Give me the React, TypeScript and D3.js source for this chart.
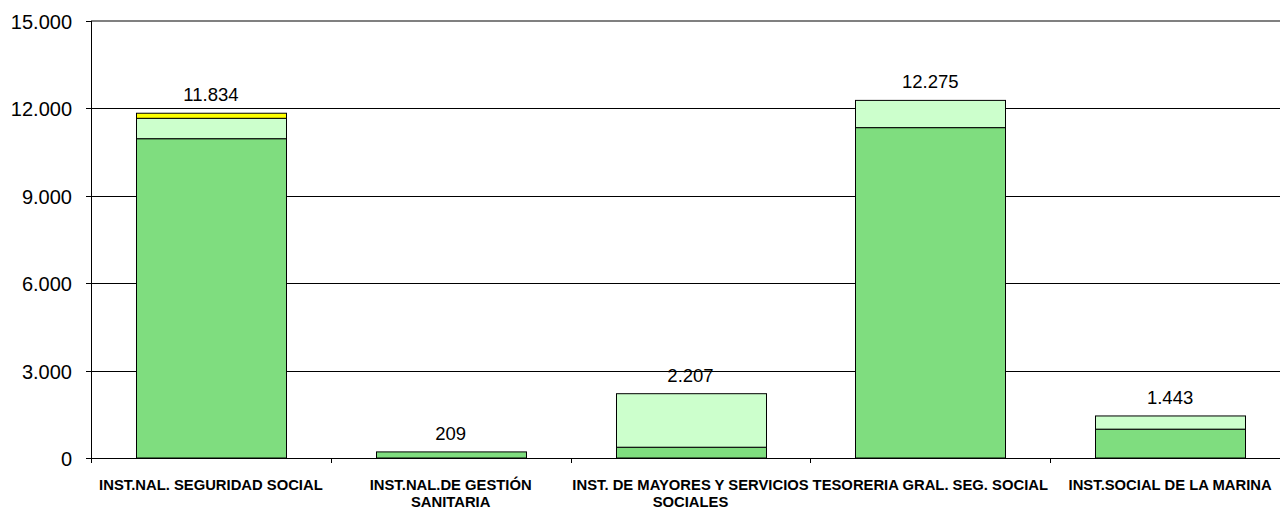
import React, { useEffect, useRef } from "react";
import * as d3 from "d3";

const categories = [
  "INST.NAL. SEGURIDAD SOCIAL",
  "INST.NAL.DE GESTIÓN SANITARIA",
  "INST. DE MAYORES Y SERVICIOS SOCIALES",
  "TESORERIA GRAL. SEG. SOCIAL",
  "INST.SOCIAL DE LA MARINA",
];
const serieBase = [10960, 209, 370, 11340, 990];
const serieMedia = [700, 0, 1837, 935, 453];
const serieAlta = [174, 0, 0, 0, 0];
const yTicks = [0, 3000, 6000, 9000, 12000, 15000];

const COLORS = ["#7FDD7F", "#CCFFCC", "#FFFF00"];
const W = 1280;
const H = 509;
const FONT = "Arial, 'Liberation Sans', sans-serif";

export default function App() {
  const ref = useRef<SVGSVGElement>(null);

  useEffect(() => {
    const svg = d3.select(ref.current);
    svg.selectAll("*").remove();

    const left = 91;
    const right = 1290;
    const top = 21;
    const bottom = 458;

    const x = d3
      .scaleBand<string>()
      .domain(categories)
      .range([left, right])
      .paddingInner(0.375)
      .paddingOuter(0.1875);
    const y = d3.scaleLinear().domain([0, 15000]).range([bottom, top]);

    const es = d3.formatLocale({
      decimal: ",",
      thousands: ".",
      grouping: [3],
      currency: ["", " €"],
    });
    const fmt = es.format(",d");

    // gridlines
    svg
      .append("g")
      .selectAll("line")
      .data(yTicks.filter((t) => t > 0 && t < 15000))
      .join("line")
      .attr("x1", left)
      .attr("x2", W)
      .attr("y1", (d) => Math.round(y(d)) + 0.5)
      .attr("y2", (d) => Math.round(y(d)) + 0.5)
      .attr("stroke", "#000")
      .attr("stroke-width", 1);
    // top border line
    svg
      .append("line")
      .attr("x1", left)
      .attr("x2", W)
      .attr("y1", y(15000))
      .attr("y2", y(15000))
      .attr("stroke", "#808080")
      .attr("stroke-width", 2);

    // stacked data
    const rows = categories.map((c, i) => ({
      cat: c,
      a: serieBase[i],
      b: serieMedia[i],
      c: serieAlta[i],
    }));
    const stack = d3.stack<any>().keys(["a", "b", "c"]);
    const layers = stack(rows);

    layers.forEach((layer, li) => {
      svg
        .append("g")
        .selectAll("rect")
        .data(layer.filter((d) => d[1] - d[0] > 0))
        .join("rect")
        .attr("x", (d) => Math.round(x(d.data.cat)!) + 0.5)
        .attr("width", Math.round(x.bandwidth()))
        .attr("y", (d) => y(d[1]))
        .attr("height", (d) => y(d[0]) - y(d[1]))
        .attr("fill", COLORS[li])
        .attr("stroke", "#000")
        .attr("stroke-width", 1);
    });

    // totals labels
    const totals = categories.map(
      (_, i) => serieBase[i] + serieMedia[i] + serieAlta[i]
    );
    svg
      .append("g")
      .selectAll("text")
      .data(totals)
      .join("text")
      .attr("x", (_, i) => x(categories[i])! + x.bandwidth() / 2)
      .attr("y", (d) => y(d) - 12)
      .attr("text-anchor", "middle")
      .attr("font-family", FONT)
      .attr("font-size", 18.5)
      .attr("fill", "#000")
      .text((d) => fmt(d));

    // y axis
    const yAxis = svg.append("g");
    yAxis
      .append("line")
      .attr("x1", left + 0.5)
      .attr("x2", left + 0.5)
      .attr("y1", top)
      .attr("y2", bottom)
      .attr("stroke", "#000");
    const yt = yAxis
      .selectAll("g.t")
      .data(yTicks)
      .join("g")
      .attr("class", "t")
      .attr("transform", (d) => `translate(0,${Math.round(y(d)) + 0.5})`);
    yt.append("line")
      .attr("x1", left - 5)
      .attr("x2", left)
      .attr("stroke", "#000");
    yt.append("text")
      .attr("x", left - 19)
      .attr("dy", "0.35em")
      .attr("text-anchor", "end")
      .attr("font-family", FONT)
      .attr("font-size", 20)
      .attr("fill", "#000")
      .text((d) => fmt(d));

    // x axis
    const xAxis = svg.append("g");
    xAxis
      .append("line")
      .attr("x1", left)
      .attr("x2", W)
      .attr("y1", bottom + 0.5)
      .attr("y2", bottom + 0.5)
      .attr("stroke", "#000");
    const step = x.step();
    const boundaries = d3.range(categories.length + 1).map((i) => left + i * step);
    xAxis
      .selectAll("line.tk")
      .data(boundaries)
      .join("line")
      .attr("class", "tk")
      .attr("x1", (d) => Math.round(d) + 0.5)
      .attr("x2", (d) => Math.round(d) + 0.5)
      .attr("y1", bottom)
      .attr("y2", bottom + 5)
      .attr("stroke", "#000");

    const labels = xAxis
      .selectAll("text.lbl")
      .data(categories)
      .join("text")
      .attr("class", "lbl")
      .attr("x", (d) => x(d)! + x.bandwidth() / 2)
      .attr("y", 490)
      .attr("text-anchor", "middle")
      .attr("font-family", FONT)
      .attr("font-size", 14.8)
      .attr("font-weight", "bold")
      .attr("fill", "#000");

    labels.each(function (d) {
      const t = d3.select(this);
      const words = d.split(" ");
      const cx = +t.attr("x");
      let line: string[] = [];
      let tspan = t.append("tspan").attr("x", cx).attr("dy", 0);
      for (const w of words) {
        line.push(w);
        tspan.text(line.join(" "));
        if ((tspan.node() as SVGTSpanElement).getComputedTextLength() > step && line.length > 1) {
          line.pop();
          tspan.text(line.join(" "));
          line = [w];
          tspan = t.append("tspan").attr("x", cx).attr("dy", 17).text(w);
        }
      }
    });
  }, []);

  return (
    <svg
      ref={ref}
      width={W}
      height={H}
      style={{ position: "absolute", left: 0, top: 0, background: "#fff" }}
    />
  );
}
